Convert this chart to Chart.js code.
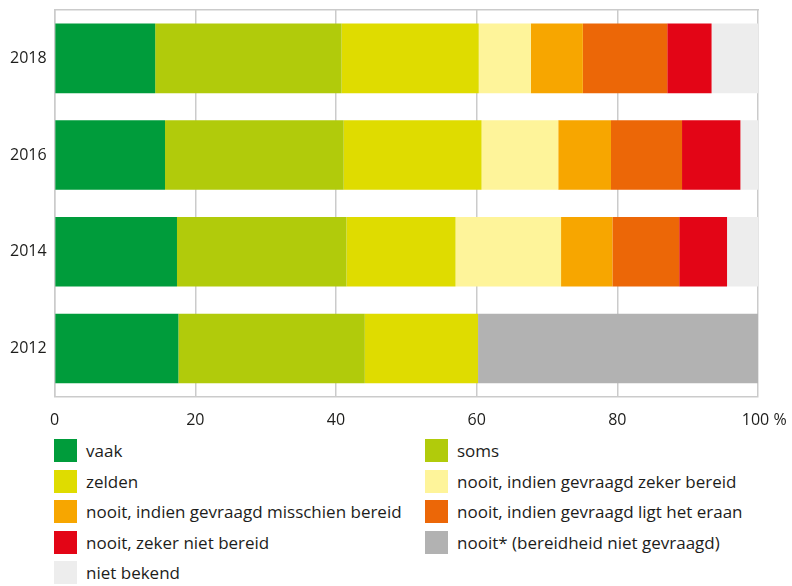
<!DOCTYPE html>
<html>
<head>
<meta charset="utf-8">
<script src="https://cdn.jsdelivr.net/npm/chart.js@4.4.1/dist/chart.umd.min.js"></script>
<style>
  body { margin: 0; background: #fff; font-family: "Open Sans", "Noto Sans", sans-serif; }
  #wrap { position: relative; width: 792px; height: 586px; overflow: hidden; }
  #legend {
    position: absolute; left: 54px; top: 439px;
    display: grid; grid-template-columns: 371px 340px; row-gap: 7.5px;
    font-size: 17px; color: #1d1d1b;
  }
  .item { display: flex; align-items: center; height: 23px; white-space: nowrap; }
  .box { width: 23px; height: 23px; margin-right: 9px; flex: none; }
</style>
</head>
<body>
<div id="wrap">
  <canvas id="myChart" width="792" height="435"></canvas>
  <div id="legend"></div>
</div>
<script>
var years = ["2018", "2016", "2014", "2012"];
var xTicks = [0, 20, 40, 60, 80, 100];

// shares in %, per year (same order as years)
var vaak = [14.3, 15.7, 17.4, 17.6];
var soms = [26.5, 25.4, 24.1, 26.5];
var zelden = [19.5, 19.6, 15.5, 16.1];
var zekerBereid = [7.4, 10.9, 15.0, null];
var misschienBereid = [7.4, 7.5, 7.3, null];
var ligtEraan = [12.0, 10.1, 9.5, null];
var zekerNiet = [6.3, 8.3, 6.8, null];
var nooitNietGevraagd = [null, null, null, 39.8];
var nietBekend = [6.6, 2.5, 4.4, null];

var labels = [
  "vaak",
  "soms",
  "zelden",
  "nooit, indien gevraagd zeker bereid",
  "nooit, indien gevraagd misschien bereid",
  "nooit, indien gevraagd ligt het eraan",
  "nooit, zeker niet bereid",
  "nooit* (bereidheid niet gevraagd)",
  "niet bekend",
];
var series = [vaak, soms, zelden, zekerBereid, misschienBereid, ligtEraan, zekerNiet, nooitNietGevraagd, nietBekend];
var colors = ["#009c3b", "#b1cb0b", "#dfdc00", "#fef49a", "#f7a600", "#ec6707", "#e30516", "#b2b2b2", "#ededed"];

var gridColor = "#cbcbcb";
var tickFont = { family: "'Open Sans', 'Noto Sans', sans-serif", size: 16 };

const ctx = document.getElementById("myChart").getContext("2d");
const chart = new Chart(ctx, {
  type: "bar",
  data: {
    labels: years,
    datasets: series.map((values, i) => ({
      label: labels[i],
      data: values,
      backgroundColor: colors[i],
      borderWidth: 0,
      barPercentage: 0.72,
      categoryPercentage: 1,
    })),
  },
  options: {
    indexAxis: "y",
    responsive: false,
    animation: false,
    layout: { padding: { left: 10, right: 34, top: 10, bottom: 5 } },
    plugins: { legend: { display: false }, tooltip: { enabled: false } },
    scales: {
      x: {
        stacked: true,
        min: 0,
        max: 100,
        afterBuildTicks: (axis) => {
          axis.ticks = xTicks.map((v) => ({ value: v }));
        },
        ticks: {
          padding: 0,
          color: "#1d1d1b",
          font: tickFont,
          maxRotation: 0,
          callback: (v) => (v === 100 ? "   100 %" : v),
        },
        grid: { color: gridColor, lineWidth: 1.5, tickLength: 14, tickColor: "transparent" },
        border: { color: gridColor, width: 1.5 },
      },
      xTop: {
        position: "top",
        min: 0,
        max: 100,
        ticks: { display: false },
        grid: { display: false, drawTicks: false },
        border: { color: gridColor, width: 1.5 },
      },
      y: {
        stacked: true,
        ticks: { padding: 0, color: "#1d1d1b", font: tickFont },
        grid: { drawOnChartArea: false, tickLength: 8, tickColor: "transparent" },
        border: { color: gridColor, width: 1.5 },
      },
    },
  },
});

// two-column legend built from the datasets
const legend = document.getElementById("legend");
chart.data.datasets.forEach((ds) => {
  const item = document.createElement("div");
  item.className = "item";
  const box = document.createElement("span");
  box.className = "box";
  box.style.background = ds.backgroundColor;
  const text = document.createElement("span");
  text.textContent = ds.label;
  item.appendChild(box);
  item.appendChild(text);
  legend.appendChild(item);
});
</script>
</body>
</html>
